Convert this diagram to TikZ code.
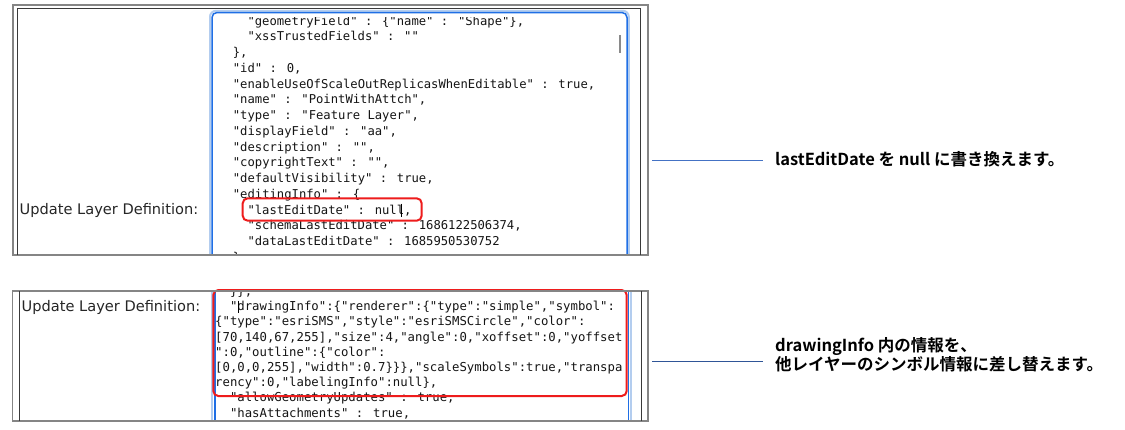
\documentclass[tikz,border=0pt]{standalone}
\usepackage{fontspec}
\newfontfamily\monof{DejaVu Sans Mono}
\newfontfamily\labf{DejaVu Sans}
\newfontfamily\jpf{Noto Sans CJK JP}[BoldFont={Noto Sans CJK JP Bold}]
\definecolor{framegray}{HTML}{858585}
\definecolor{framedark}{HTML}{3A3A3A}
\definecolor{focusblue}{HTML}{1F6FE5}
\definecolor{glowblue}{HTML}{B3CDEF}
\definecolor{hired}{HTML}{EE1C1C}
\definecolor{codecol}{HTML}{151515}
\definecolor{labcol}{HTML}{262626}
\definecolor{leadA}{HTML}{4472C4}
\definecolor{leadB}{HTML}{2F5597}
\definecolor{thumb}{HTML}{8A8A8A}
\tikzset{
  codeA/.style={anchor=base west, inner sep=0pt, text=codecol, font=\monof\fontsize{12.2}{14}\selectfont},
  codeB/.style={anchor=base west, inner sep=0pt, text=codecol, font=\monof\fontsize{12.3}{14}\selectfont},
  lbl/.style={anchor=base west, inner sep=0pt, text=labcol, font=\labf\fontsize{14.6}{16}\selectfont},
  ann/.style={anchor=base west, inner sep=0pt, text=black, font=\jpf\bfseries\fontsize{16.5}{18}\selectfont},
  frameout/.style={draw=framegray, line width=1.2pt},
  framein/.style={draw=framedark, line width=1pt},
  focus/.style={draw=focusblue, line width=1.5pt},
  glow/.style={draw=glowblue, line width=2pt},
  hilite/.style={draw=hired, line width=2pt, rounded corners=5pt},
  caret/.style={draw=black, line width=0.8pt},
  thumbbar/.style={draw=thumb, line width=2.2pt},
  leaderA/.style={draw=leadA, line width=1pt},
  leaderB/.style={draw=leadB, line width=1pt},
}
\begin{document}
\begin{tikzpicture}[x=1pt,y=-1pt]
\useasboundingbox[fill=white] (0,0) rectangle (1125,429);

% ---------- Panel 1 ----------
\begin{scope}
  \clip (13,5) rectangle (648,254.5);
  \draw[glow, rounded corners=6pt] (210,10.8) rectangle (628.8,300);
  \draw[focus, rounded corners=5pt] (212,12.5) rectangle (627,300);
\end{scope}
\draw[thumbbar] (620,35) -- (620,53);

\begin{scope}
  \clip (213,17.5) rectangle (626,254.5);
  \node[codeA] (p1l0)  at (247.3,25)    {"geometryField" : \{"name" : "Shape"\},};
  \node[codeA] (p1l1)  at (247.3,40.75) {"xssTrustedFields" : ""};
  \node[codeA] (p1l2)  at (232.7,56.5)  {\},};
  \node[codeA] (p1l3)  at (232.7,72.25) {"id" : 0,};
  \node[codeA] (p1l4)  at (232.7,88)    {"enableUseOfScaleOutReplicasWhenEditable" : true,};
  \node[codeA] (p1l5)  at (232.7,103.75){"name" : "PointWithAttch",};
  \node[codeA] (p1l6)  at (232.7,119.5) {"type" : "Feature Layer",};
  \node[codeA] (p1l7)  at (232.7,135.25){"displayField" : "aa",};
  \node[codeA] (p1l8)  at (232.7,151)   {"description" : "",};
  \node[codeA] (p1l9)  at (232.7,166.75){"copyrightText" : "",};
  \node[codeA] (p1l10) at (232.7,182.5) {"defaultVisibility" : true,};
  \node[codeA] (p1l11) at (232.7,198.25){"editingInfo" : \{};
  \node[codeA] (p1l12) at (247.3,214)   {"lastEditDate" : null,};
  \node[codeA] (p1l13) at (247.3,229.75){"schemaLastEditDate" : 1686122506374,};
  \node[codeA] (p1l14) at (247.3,245.5) {"dataLastEditDate" : 1685950530752};
  \node[codeA] (p1l15) at (232.7,261.25){\}};
\end{scope}
\draw[caret] (401.3,203.5) -- (401.3,216.5);
\draw[hilite] (242.7,198.3) rectangle (421.7,220.7);

\draw[frameout] (13,5) rectangle (648,255);
\draw[framein] (17,255) -- (17,8.3) -- (640,8.3) -- (640,255);
\node[lbl] (lab1) at (19.5,214.3) {Update Layer Definition:};

% ---------- Panel 2 ----------
\draw[glow, line width=1.5pt] (211.8,291) -- (211.8,421);
\draw[glow, line width=1.5pt] (631,291) -- (631,421);
\draw[focus] (215,291) -- (215,421);
\draw[focus] (628.3,291) -- (628.3,421);

\begin{scope}
  \clip (213,291) rectangle (627,420.5);
  \node[codeB] (p2l0) at (229.8,295.5) {\}\},};
  \node[codeB] (p2l1) at (229.8,310.7) {"drawingInfo":\{"renderer":\{"type":"simple","symbol":};
  \node[codeB] (p2l2) at (215,325.9)   {\{"type":"esriSMS","style":"esriSMSCircle","color":};
  \node[codeB] (p2l3) at (215,341.1)   {[70,140,67,255],"size":4,"angle":0,"xoffset":0,"yoffset};
  \node[codeB] (p2l4) at (215,356.3)   {":0,"outline":\{"color":};
  \node[codeB] (p2l5) at (215,371.5)   {[0,0,0,255],"width":0.7\}\}\},"scaleSymbols":true,"transpa};
  \node[codeB] (p2l6) at (215,386.7)   {rency":0,"labelingInfo":null\},};
  \node[codeB] (p2l7) at (229.8,401.9) {"allowGeometryUpdates" : true,};
  \node[codeB] (p2l8) at (229.8,417.1) {"hasAttachments" : true,};
\end{scope}
\draw[caret] (238,300.5) -- (238,313);
\draw[hilite] (213.3,290) rectangle (626.7,396);

\draw[frameout] (12.3,291) rectangle (648,421);
\draw[framein] (19.3,291) -- (19.3,421);
\draw[framein] (641,291) -- (641,421);
\node[lbl] (lab2) at (21.5,311) {Update Layer Definition:};

% ---------- Annotations ----------
\node[ann] (ann1) at (775,165.7) {lastEditDate を null に書き換えます。};
\node[ann] (ann2a) at (775,351.7) {drawingInfo 内の情報を、};
\node[ann] (ann2b) at (775,370) {他レイヤーのシンボル情報に差し替えます。};

\coordinate (l1s) at (652,160.7);
\coordinate (l2s) at (652,361);
\draw[leaderA, shorten >=12pt] (l1s) -- (l1s -| ann1.west);
\draw[leaderB, shorten >=12pt] (l2s) -- (l2s -| ann2b.west);
\end{tikzpicture}
\end{document}
